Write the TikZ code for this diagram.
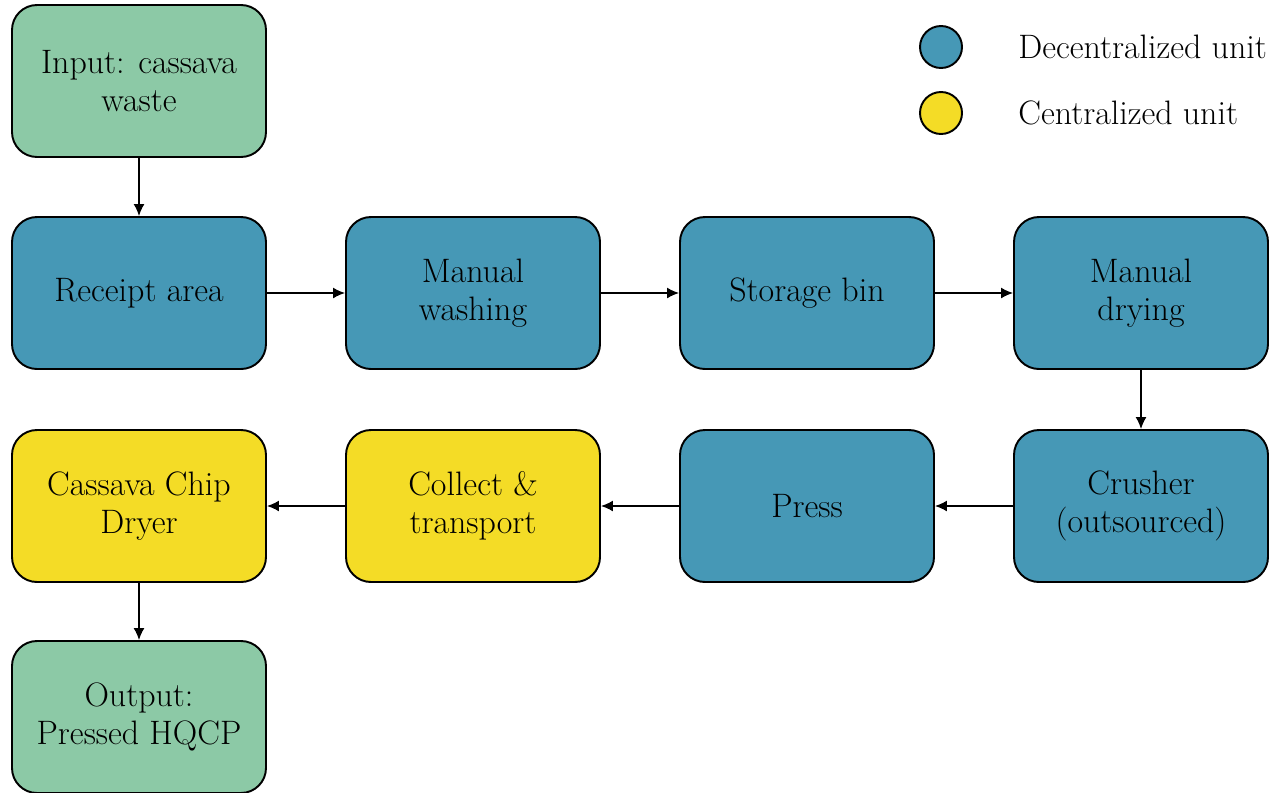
\documentclass[tikz,border=0pt]{standalone}
\usetikzlibrary{arrows.meta}
\definecolor{decblue}{RGB}{70,152,182}
\definecolor{cenyellow}{RGB}{244,220,38}
\definecolor{iogreen}{RGB}{140,201,166}
\begin{document}
\begin{tikzpicture}[
  unit/.style={draw, line width=1.1pt, rounded corners=0.5cm, minimum width=5.08cm, minimum height=3.04cm, align=center, font=\fontsize{19.3}{21.6}\selectfont},
  dec/.style={unit, fill=decblue},
  cen/.style={unit, fill=cenyellow},
  io/.style={unit, fill=iogreen},
  flow/.style={-{Latex[length=0.24cm,width=0.22cm]}, line width=0.85pt},
  dot/.style={circle, draw, line width=1.1pt, minimum size=0.84cm, inner sep=0pt}
]
\useasboundingbox (0,0) rectangle (25.74,-15.84);
\node[io] (input) at (2.78,-1.62){Input: cassava\\waste};
\node[dec] (receipt) at (2.78,-5.86){Receipt area};
\node[dec] (washing) at (9.46,-5.86){Manual\\washing};
\node[dec] (storage) at (16.14,-5.86){Storage bin};
\node[dec] (drying) at (22.82,-5.86){Manual\\drying};
\node[dec] (crusher) at (22.82,-10.12){Crusher\\(outsourced)};
\node[dec] (press) at (16.14,-10.12){Press};
\node[cen] (collect) at (9.46,-10.12){Collect \&\\transport};
\node[cen] (dryer) at (2.78,-10.12){Cassava Chip\\Dryer};
\node[io] (output) at (2.78,-14.34){Output:\\Pressed HQCP};
\draw[flow](input) -- (receipt);
\draw[flow](receipt) -- (washing);
\draw[flow](washing) -- (storage);
\draw[flow](storage) -- (drying);
\draw[flow](drying) -- (crusher);
\draw[flow](crusher) -- (press);
\draw[flow](press) -- (collect);
\draw[flow](collect) -- (dryer);
\draw[flow](dryer) -- (output);
% legend
\node[dot, fill=decblue] (decdot) at (18.82,-0.94){};
\node[dot, fill=cenyellow] (cendot) at (18.82,-2.26){};
\node[anchor=west, font=\fontsize{19.3}{21.6}\selectfont, inner sep=0pt] (declab) at (20.36,-0.94){Decentralized unit};
\node[anchor=west, font=\fontsize{19.3}{21.6}\selectfont, inner sep=0pt] (cenlab) at (20.36,-2.26){Centralized unit};
\end{tikzpicture}
\end{document}
